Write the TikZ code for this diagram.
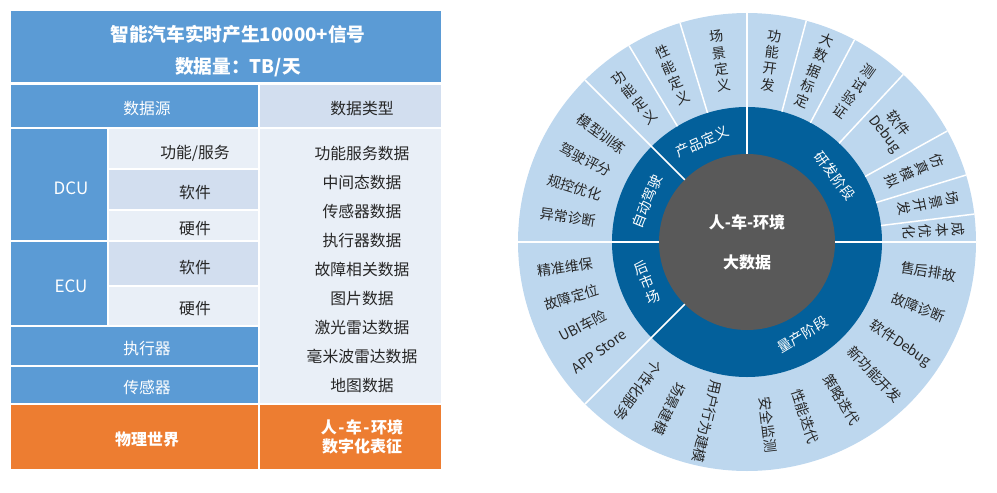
\documentclass[tikz,border=0pt]{standalone}
\usepackage{fontspec}
\setmainfont{Noto Sans CJK SC}
\definecolor{tblue}{HTML}{5B9BD5}
\definecolor{tpale}{HTML}{D2DEEF}
\definecolor{tlight}{HTML}{E9EFF7}
\definecolor{torange}{HTML}{ED7D31}
\definecolor{wdark}{HTML}{03609B}
\definecolor{wlight}{HTML}{BDD7EE}
\definecolor{wgray}{HTML}{595959}
\definecolor{ink}{HTML}{262626}
\newcommand{\dsh}{\kern1.5pt-\kern1.5pt}
\tikzset{
	cell/.style={draw=white,line width=1.5pt},
	lbl/.style={inner sep=0pt,text=ink,font=\fontsize{15.8}{18}\selectfont},
	wlbl/.style={lbl,text=white},
	hdr/.style={inner sep=0pt,text=white,font=\fontsize{18.7}{21}\selectfont\bfseries},
	sep/.style={draw=white,line width=1.5pt},
	seg/.style={inner sep=0pt,align=center,text=ink,font=\fontsize{14}{16.5}\selectfont},
	mid/.style={inner sep=0pt,align=center,text=white,font=\fontsize{14}{17}\selectfont}
}
\begin{document}
\begin{tikzpicture}[x=1pt,y=-1pt]
	\useasboundingbox (0,0) rectangle (997,493);
	% table
	\path[cell,fill=tblue] (10,10) rectangle (442,83);
	\path[cell,fill=tblue] (10,84) rectangle (259,128);
	\path[cell,fill=tpale] (259,84) rectangle (442,128);
	\path[cell,fill=tblue] (10,128) rectangle (108,241);
	\path[cell,fill=tlight] (108,128) rectangle (259,169);
	\path[cell,fill=tpale] (108,169) rectangle (259,210);
	\path[cell,fill=tlight] (108,210) rectangle (259,241);
	\path[cell,fill=tblue] (10,241) rectangle (108,326);
	\path[cell,fill=tpale] (108,241) rectangle (259,286);
	\path[cell,fill=tlight] (108,286) rectangle (259,326);
	\path[cell,fill=tblue] (10,326) rectangle (259,366);
	\path[cell,fill=tblue] (10,366) rectangle (259,404);
	\path[cell,fill=tlight] (259,128) rectangle (442,404);
	\path[cell,fill=torange] (10,404) rectangle (259,470);
	\path[cell,fill=torange] (259,404) rectangle (442,470);

	\node[hdr] (title1) at (238,34) {智能汽车实时产生10000+信号};
	\node[hdr] (title2) at (238,67) {数据量：TB/天};
	\node[wlbl] (source) at (147,109) {数据源};
	\node[lbl] (types) at (362,109) {数据类型};
	\node[wlbl,font=\fontsize{17}{20}\selectfont] (dcu) at (71,188) {DCU};
	\node[lbl] (dcufunc) at (195,153) {功能/服务};
	\node[lbl] (dcusw) at (195,192) {软件};
	\node[lbl] (dcuhw) at (195,229) {硬件};
	\node[wlbl,font=\fontsize{17}{20}\selectfont] (ecu) at (71,286) {ECU};
	\node[lbl] (ecusw) at (195,267) {软件};
	\node[lbl] (ecuhw) at (195,309) {硬件};
	\node[wlbl] (actuator) at (147,349) {执行器};
	\node[wlbl] (sensor) at (147,387) {传感器};
	\foreach \t [count=\i] in {功能服务数据,中间态数据,传感器数据,执行器数据,故障相关数据,图片数据,激光雷达数据,毫米波雷达数据,地图数据}
		\node[lbl] (type\i) at (362,{125+28.9*\i}) {\t};
	\node[hdr,font=\fontsize{16}{19}\selectfont\bfseries] (world) at (147,439) {物理世界};
	\node[hdr,align=center,font=\fontsize{16}{19.5}\selectfont\bfseries] (digital) at (362,437) {人\dsh 车\dsh 环境\\数字化表征};

	% wheel
	\begin{scope}[shift={(747,242)},y=1pt]
		\fill[wlight] (0,0) circle (229pt);
		\fill[wdark] (0,0) circle (135pt);
		\fill[wgray] (0,0) circle (88pt);
		\foreach \a in {0,90,135,180,225}
			\draw[sep] (\a:88) -- (\a:229);
		\foreach \a in {7,17,29,47,62,75,107,121}
			\draw[sep] (\a:135) -- (\a:229);

		\node[hdr,font=\fontsize{16}{19}\selectfont\bfseries] (core1) at (0,20) {人-车-环境};
		\node[hdr,font=\fontsize{16}{19}\selectfont\bfseries] (core2) at (0,-20) {大数据};

		\node[mid,rotate=-53] (rnd) at (37:110) {研发阶段};
		\node[mid,rotate=24] (prod) at (114:110) {产品定义};
		\node[mid,rotate=68] (auto) at (158:108) {自动驾驶};
		\node[mid,rotate=22,font=\fontsize{14}{15.5}\selectfont] (after) at (202:108) {后\\市\\场};
		\node[mid,rotate=31] (mass) at (301:108) {量产阶段};

		% research stage
		\node[seg,rotate=-7.5] (rnd1) at (82.5:183) {功\\能\\开\\发};
		\node[seg,rotate=-21.5] (rnd2) at (68.5:184) {大\\数\\据\\标\\定};
		\node[seg,rotate=-35.5] (rnd3) at (54.5:185) {测\\试\\验\\证};
		\node[seg,rotate=-52] (rnd4) at (38:183) {软件\\Debug};
		\node[seg,rotate=-67] (rnd5) at (23:182) {仿\\真\\模\\拟};
		\node[seg,rotate=-78] (rnd6) at (12:185) {场\\景\\开\\发};
		\node[seg,rotate=-86.5] (rnd7) at (3.5:187) {成\\本\\优\\化};

		% product definition
		\node[seg,rotate=8.5] (prod1) at (98.5:183) {场\\景\\定\\义};
		\node[seg,rotate=24] (prod2) at (114:183) {性\\能\\定\\义};
		\node[seg,rotate=38] (prod3) at (128:183) {功\\能\\定\\义};

		% autonomous driving
		\foreach \t/\a [count=\i] in {模型训练/143.5,驾驶评分/153,规控优化/162.5,异常诊断/172}
			\node[seg,rotate=\a-180] (auto\i) at (\a:181) {\t};

		% aftermarket
		\foreach \t/\a [count=\i] in {精准维保/188,故障定位/197.5,UBI车险/207,APP Store/216.5}
			\node[seg,rotate=\a-180] (after\i) at (\a:184) {\t};

		% mass production
		\foreach \t/\a [count=\i] in {个性化服务/233.7,场景建模/245,用户行为建模/257.5,安全监测/276.5,性能迭代/288.5,策略迭代/301,新功能开发/314,软件Debug/326.5,故障诊断/339,售后排故/350.7}
			\node[seg,rotate=\a] (mass\i) at (\a:184) {\t};
	\end{scope}
\end{tikzpicture}
\end{document}
